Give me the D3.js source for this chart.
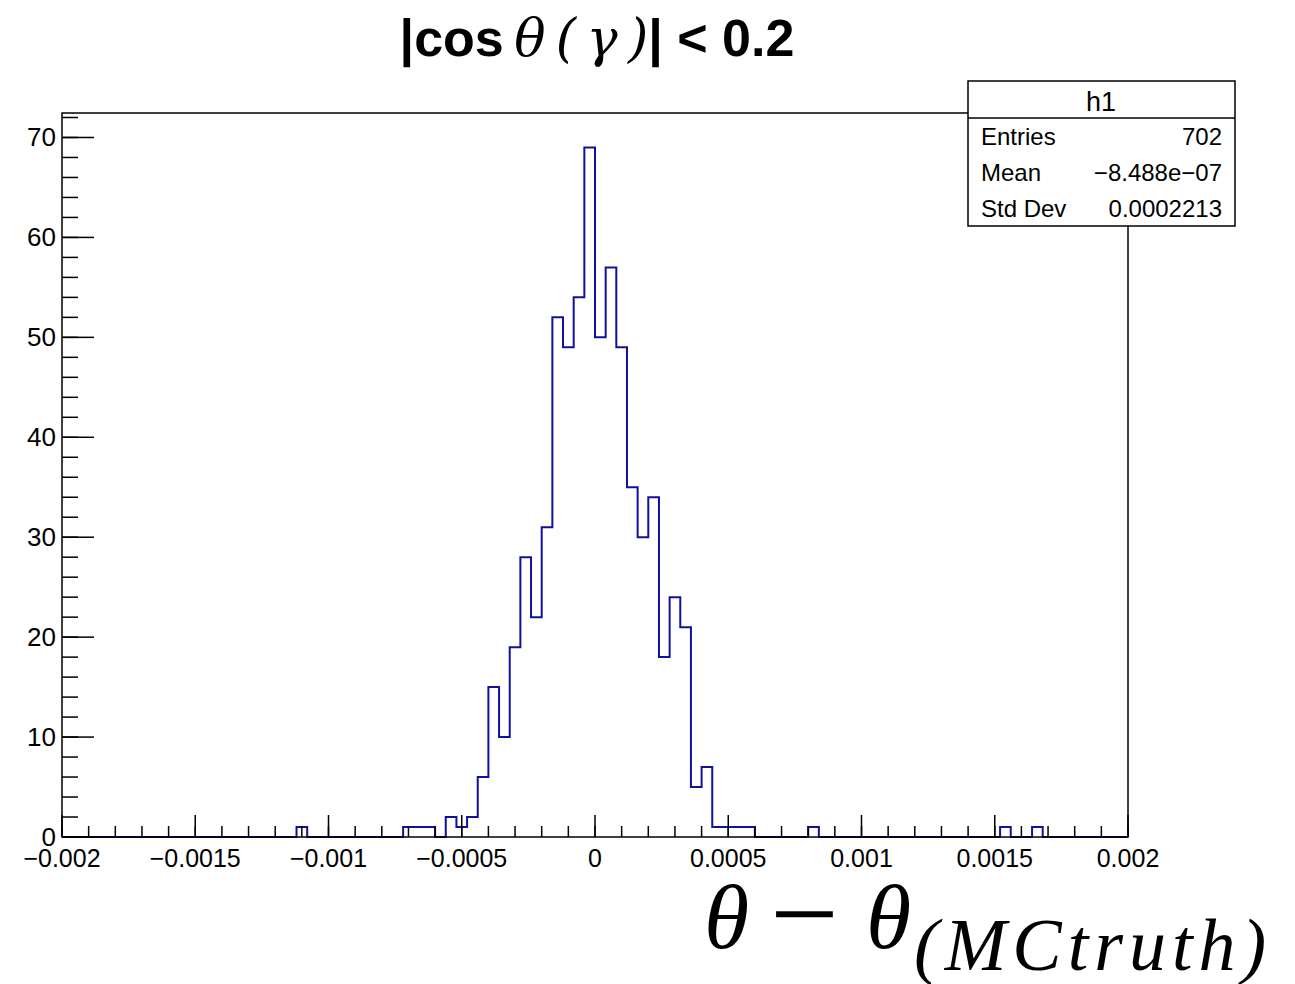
<!DOCTYPE html>
<html>
<head>
<meta charset="utf-8">
<script src="https://cdn.jsdelivr.net/npm/d3@7"></script>
<style>
  body { margin: 0; background: #fff; }
  svg text { font-family: "Liberation Sans", Arial, sans-serif; }
</style>
</head>
<body>
<div id="viz"></div>
<script>
var w = 1295;
var h = 984;

// histogram h1: 100 bins from -0.002 to 0.002
var xMin = -0.002;
var xMax = 0.002;
var nBins = 100;

var counts = [
  0, 0, 0, 0, 0, 0, 0, 0, 0, 0,
  0, 0, 0, 0, 0, 0, 0, 0, 0, 0,
  0, 0, 1, 0, 0, 0, 0, 0, 0, 0,
  0, 0, 1, 1, 1, 0, 2, 1, 2, 6,
  15, 10, 19, 28, 22, 31, 52, 49, 54, 69,
  50, 57, 49, 35, 30, 34, 18, 24, 21, 5,
  7, 1, 1, 1, 1, 0, 0, 0, 0, 0,
  1, 0, 0, 0, 0, 0, 0, 0, 0, 0,
  0, 0, 0, 0, 0, 0, 0, 0, 1, 0,
  0, 1, 0, 0, 0, 0, 0, 0, 0, 0
];

var statNames = ["Entries", "Mean", "Std Dev"];
var statValues = ["702", "\u22128.488e\u221207", "0.0002213"];

var xMajor = [-0.002, -0.0015, -0.001, -0.0005, 0, 0.0005, 0.001, 0.0015, 0.002];
var yMajor = [0, 10, 20, 30, 40, 50, 60, 70];

var padL = 62, padR = 1128, padT = 113, padB = 837;

var svg = d3.select("#viz")
    .append("svg")
    .attr("width", w)
    .attr("height", h);

var x = d3.scaleLinear().domain([xMin, xMax]).range([padL, padR]);
var y = d3.scaleLinear().domain([0, 72.45]).range([padB, padT]);

var binW = (xMax - xMin) / nBins;

// step outline of the histogram
var pts = [[xMin, 0]];
counts.forEach(function (c, i) {
    pts.push([xMin + i * binW, c]);
    pts.push([xMin + (i + 1) * binW, c]);
});
pts.push([xMax, 0]);

var line = d3.line()
    .x(function (d) { return x(d[0]); })
    .y(function (d) { return y(d[1]); });

svg.append("path")
    .attr("d", line(pts))
    .attr("fill", "none")
    .attr("stroke", "#1010a0")
    .attr("stroke-width", 2);

// frame
svg.append("rect")
    .attr("x", padL).attr("y", padT)
    .attr("width", padR - padL).attr("height", padB - padT)
    .attr("fill", "none")
    .attr("stroke", "#000")
    .attr("stroke-width", 1.5);

// y axis ticks
var yMinor = d3.range(0, 73, 2);
var yAxisG = svg.append("g").attr("transform", "translate(" + padL + ",0)");
yAxisG.selectAll("line.minor")
    .data(yMinor)
    .enter().append("line")
    .attr("x1", 0).attr("x2", 16)
    .attr("y1", function (d) { return y(d); })
    .attr("y2", function (d) { return y(d); })
    .attr("stroke", "#000").attr("stroke-width", 1.5);
yAxisG.selectAll("line.major")
    .data(yMajor)
    .enter().append("line")
    .attr("x1", 0).attr("x2", 32)
    .attr("y1", function (d) { return y(d); })
    .attr("y2", function (d) { return y(d); })
    .attr("stroke", "#000").attr("stroke-width", 1.5);
yAxisG.selectAll("text")
    .data(yMajor)
    .enter().append("text")
    .attr("x", -6)
    .attr("y", function (d) { return y(d) + 9; })
    .attr("text-anchor", "end")
    .attr("font-size", 26)
    .text(function (d) { return d; });

// x axis ticks
var xMinor = d3.range(0, 41).map(function (i) { return xMin + i * 0.0001; });
var xAxisG = svg.append("g").attr("transform", "translate(0," + padB + ")");
xAxisG.selectAll("line.minor")
    .data(xMinor)
    .enter().append("line")
    .attr("x1", function (d) { return x(d); })
    .attr("x2", function (d) { return x(d); })
    .attr("y1", 0).attr("y2", -11)
    .attr("stroke", "#000").attr("stroke-width", 1.5);
xAxisG.selectAll("line.major")
    .data(xMajor)
    .enter().append("line")
    .attr("x1", function (d) { return x(d); })
    .attr("x2", function (d) { return x(d); })
    .attr("y1", 0).attr("y2", -22)
    .attr("stroke", "#000").attr("stroke-width", 1.5);

function fmt(d) {
    if (Math.abs(d) < 1e-12) return "0";
    var s = String(+Math.abs(d).toFixed(4));
    return (d < 0 ? "\u2212" : "") + s;
}
xAxisG.selectAll("text")
    .data(xMajor)
    .enter().append("text")
    .attr("x", function (d) { return x(d); })
    .attr("y", 30)
    .attr("text-anchor", "middle")
    .attr("font-size", 25)
    .text(fmt);

// stats box
var box = svg.append("g");
box.append("rect")
    .attr("x", 968).attr("y", 81)
    .attr("width", 267).attr("height", 145)
    .attr("fill", "#fff")
    .attr("stroke", "#000").attr("stroke-width", 1.5);
box.append("line")
    .attr("x1", 968).attr("x2", 1235)
    .attr("y1", 118).attr("y2", 118)
    .attr("stroke", "#000").attr("stroke-width", 1.5);
box.append("text")
    .attr("x", 1101).attr("y", 111)
    .attr("text-anchor", "middle")
    .attr("font-size", 27)
    .text("h1");
statNames.forEach(function (n, i) {
    box.append("text")
        .attr("x", 981).attr("y", 145 + i * 36)
        .attr("font-size", 24)
        .text(n);
    box.append("text")
        .attr("x", 1222).attr("y", 145 + i * 36)
        .attr("text-anchor", "end")
        .attr("font-size", 24)
        .text(statValues[i]);
});

// title
var title = svg.append("text")
    .attr("x", 597).attr("y", 56)
    .attr("text-anchor", "middle")
    .attr("font-size", 52)
    .attr("font-weight", "bold");
title.append("tspan").text("|cos\u2009");
title.append("tspan").attr("font-style", "italic").attr("font-weight", "normal")
    .attr("font-family", "DejaVu Serif").text("\u03b8\u2009(\u2009\u03b3\u2009)");
title.append("tspan").text("| < 0.2");

// x axis title
var xt = svg.append("text")
    .attr("y", 948)
    .style("font-family", "'Liberation Serif', 'DejaVu Serif', serif")
    .attr("font-size", 92);
xt.append("tspan").attr("x", 704).attr("font-style", "italic").text("\u03b8");
xt.append("tspan").attr("x", 770).attr("dy", 7).attr("font-size", 122).text("\u2212");
xt.append("tspan").attr("x", 866).attr("dy", -7).attr("font-style", "italic").text("\u03b8");
xt.append("tspan").attr("x", 914).attr("font-size", 74).attr("dy", 22)
    .attr("font-style", "italic").attr("letter-spacing", 6).text("(MCtruth)");
</script>
</body>
</html>
